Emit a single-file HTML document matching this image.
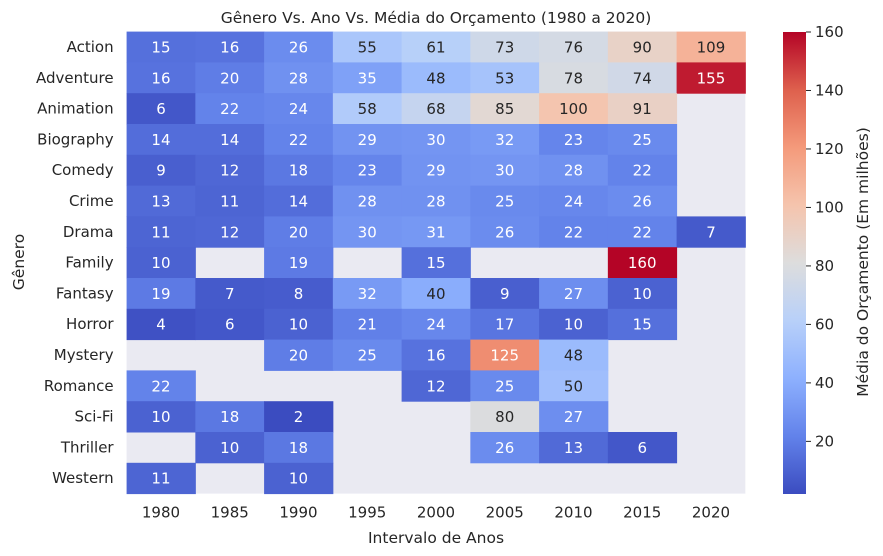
<!DOCTYPE html>
<html><head><meta charset="utf-8"><style>
body{margin:0;background:#fff;}
svg{display:block;font-family:"DejaVu Sans","Liberation Sans",sans-serif;}
</style></head><body>
<svg id="chart" width="883" height="556" xmlns="http://www.w3.org/2000/svg">
<defs><linearGradient id="cw" x1="0" y1="1" x2="0" y2="0">
<stop offset="0" stop-color="rgb(59,76,192)"/><stop offset="0.125" stop-color="rgb(98,130,234)"/>
<stop offset="0.25" stop-color="rgb(141,176,254)"/><stop offset="0.375" stop-color="rgb(184,208,249)"/>
<stop offset="0.5" stop-color="rgb(221,221,221)"/><stop offset="0.625" stop-color="rgb(245,196,173)"/>
<stop offset="0.75" stop-color="rgb(244,154,123)"/><stop offset="0.875" stop-color="rgb(222,96,77)"/>
<stop offset="1" stop-color="rgb(180,4,38)"/></linearGradient></defs>
<text x="436" y="23" text-anchor="middle" font-size="15.5" fill="#262626">Gênero Vs. Ano Vs. Média do Orçamento (1980 a 2020)</text>
<text x="436" y="543" text-anchor="middle" font-size="15.5" fill="#262626">Intervalo de Anos</text>
<text transform="translate(24,262) rotate(-90)" text-anchor="middle" font-size="15.5" fill="#262626">Gênero</text>
<text transform="translate(868,262) rotate(-90)" text-anchor="middle" font-size="15.5" fill="#262626">Média do Orçamento (Em milhões)</text>
<rect x="783" y="32" width="23" height="462" fill="url(#cw)"/>
<g id="cells"></g><g id="labels"></g>
</svg>
<script>
const years=["1980","1985","1990","1995","2000","2005","2010","2015","2020"];
const genres=["Action","Adventure","Animation","Biography","Comedy","Crime","Drama","Family","Fantasy","Horror","Mystery","Romance","Sci-Fi","Thriller","Western"];
const N=null;
const values=[
[15,16,26,55,61,73,76,90,109],
[16,20,28,35,48,53,78,74,155],
[6,22,24,58,68,85,100,91,N],
[14,14,22,29,30,32,23,25,N],
[9,12,18,23,29,30,28,22,N],
[13,11,14,28,28,25,24,26,N],
[11,12,20,30,31,26,22,22,7],
[10,N,19,N,15,N,N,160,N],
[19,7,8,32,40,9,27,10,N],
[4,6,10,21,24,17,10,15,N],
[N,N,20,25,16,125,48,N,N],
[22,N,N,N,12,25,50,N,N],
[10,18,2,N,N,80,27,N,N],
[N,10,18,N,N,26,13,6,N],
[11,N,10,N,N,N,N,N,N]];
const cbTicks=[20,40,60,80,100,120,140,160];
const vmin=2,vmax=160;
const L=126.6,T=31.6,CW=68.75,RH=30.8;
const cbTop=32,cbBot=494;
const stops=[[59,76,192],[98,130,234],[141,176,254],[184,208,249],[221,221,221],[245,196,173],[244,154,123],[222,96,77],[180,4,38]];
function cmap(v){let t=Math.max(0,Math.min(1,(v-vmin)/(vmax-vmin)))*8;let i=Math.min(7,Math.floor(t)),f=t-i;
return stops[i].map((c,k)=>Math.round(c+(stops[i+1][k]-c)*f));}
function lum(c){const l=c.map(x=>{x/=255;return x<=0.03928?x/12.92:Math.pow((x+0.055)/1.055,2.4)});return 0.2126*l[0]+0.7152*l[1]+0.0722*l[2];}
const NS="http://www.w3.org/2000/svg";
const svg=document.getElementById('chart'),cells=document.getElementById('cells'),labs=document.getElementById('labels');
function mk(tag,attrs,parent,txt){const e=document.createElementNS(NS,tag);for(const k in attrs)e.setAttribute(k,attrs[k]);if(txt!==undefined)e.textContent=txt;parent.appendChild(e);return e;}
const bg=mk('rect',{x:L,y:T,width:CW*years.length,height:RH*genres.length,fill:'#eaeaf2'},cells);


genres.forEach((g,r)=>{
 const yl=mk('text',{x:L-13,y:T+RH*r+RH/2+5,'text-anchor':'end','font-size':15,fill:'#262626'},labs,g);
 
 
 years.forEach((yr,c)=>{const v=values[r][c];if(v===null)return;
  const col=cmap(v);
  const rc=mk('rect',{x:L+CW*c,y:T+RH*r,width:CW+0.5,height:RH+0.5,fill:`rgb(${col})`},cells);
  
  
  const t=mk('text',{x:L+CW*c+CW/2,y:T+RH*r+RH/2+5.5,'text-anchor':'middle','font-size':15,fill:lum(col)>0.408?'#262626':'#ffffff'},labs,String(v));
  
  
 });
});
years.forEach((yr,c)=>{const t=mk('text',{x:L+CW*c+CW/2,y:T+RH*genres.length+24,'text-anchor':'middle','font-size':15,fill:'#262626'},labs,yr);
 
 });
cbTicks.forEach(v=>{const y=cbBot-(v-vmin)/(vmax-vmin)*(cbBot-cbTop);
 const tk=mk('line',{x1:806,x2:811,y1:y,y2:y,stroke:'#262626','stroke-width':1},labs);
 
 
 const t=mk('text',{x:815,y:y+5,'font-size':15,fill:'#262626'},labs,String(v));
 
 });
</script>
</body></html>
